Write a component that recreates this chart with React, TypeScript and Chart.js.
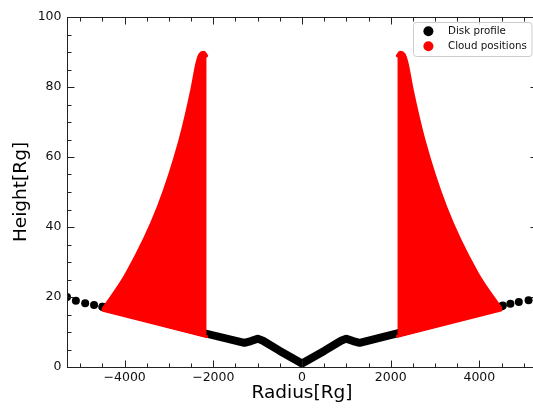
import React, { useEffect, useRef } from 'react';
import { Chart, registerables } from 'chart.js';

Chart.register(...registerables);

// ---- Data ----
const diskOuterX = [-5300, -5100, -4890, -4690, -4500, 4530, 4700, 4890, 5110, 5300];
const diskOuterY = [20.0, 18.9, 18.2, 17.7, 17.2, 17.6, 18.1, 18.6, 19.1, 19.6];

const diskInnerX = [-4500, -3300, -2150, -1300, -1150, -1000, -880, -500, 0, 500, 880, 1000, 1150, 1300, 2150, 3300, 4500];
const diskInnerY = [17.2, 13.3, 9.5, 6.9, 7.4, 8.1, 7.5, 4.6, 1.0, 4.6, 7.5, 8.1, 7.4, 6.9, 9.6, 13.4, 17.3];

const cloudLeftUpperX = [-4487, -3953, -3240, -2751, -2487, -2368, -2300, -2210, -2150];
const cloudLeftUpperY = [16.6, 26.8, 45.8, 64.9, 79.1, 86.9, 89.4, 89.9, 88.9];
const cloudLeftLowerX = [-4487, -2150];
const cloudLeftLowerY = [16.2, 8.7];

const cloudRightUpperX = [2150, 2210, 2300, 2368, 2487, 2751, 3240, 3953, 4487];
const cloudRightUpperY = [88.9, 89.9, 89.4, 86.9, 79.1, 64.9, 45.8, 26.8, 16.8];
const cloudRightLowerX = [2150, 4487];
const cloudRightLowerY = [8.8, 16.3];

const xTicks = [-4000, -2000, 0, 2000, 4000];
const yTicks = [0, 20, 40, 60, 80, 100];
const xMinorStep = 500;
const yMinorStep = 5;

const legendLabels = ['Disk profile', 'Cloud positions'];
const legendColors = ['#000000', '#ff0000'];

const FONT = 'DejaVu Sans';
const RED = '#ff0000';

const pts = (xs: number[], ys: number[]) => xs.map((x, i) => ({ x, y: ys[i] }));
const fmt = (v: number) => (v < 0 ? '\u2212' + Math.abs(v) : String(v));

const framePlugin = {
  id: 'frameAndLegend',
  afterDraw(chart: any) {
    const { ctx, chartArea: a, scales } = chart;
    const xs = scales.x;
    const ys = scales.y;
    const L = Math.round(a.left) + 0.5;
    const R = Math.round(a.right) + 0.5;
    const T = Math.round(a.top) + 0.5;
    const B = Math.round(a.bottom) + 0.5;
    ctx.save();
    ctx.strokeStyle = '#222';
    ctx.lineWidth = 1;
    const seg = (x1: number, y1: number, x2: number, y2: number) => {
      ctx.beginPath();
      ctx.moveTo(x1, y1);
      ctx.lineTo(x2, y2);
      ctx.stroke();
    };
    for (let v = Math.ceil(xs.min / xMinorStep) * xMinorStep; v <= xs.max; v += xMinorStep) {
      const major = xTicks.includes(v);
      const len = major ? 7 : 4;
      const px = Math.round(xs.getPixelForValue(v)) + 0.5;
      seg(px, B, px, B - len);
      seg(px, T, px, T + len);
    }
    for (let v = Math.ceil(ys.min / yMinorStep) * yMinorStep; v <= ys.max; v += yMinorStep) {
      const major = yTicks.includes(v);
      const len = major ? 7 : 4;
      const py = Math.round(ys.getPixelForValue(v)) + 0.5;
      seg(L, py, L + len, py);
      seg(R, py, R - len, py);
    }
    ctx.strokeRect(L, T, R - L, B - T);

    // legend
    const bx = 413.5, by = 22.5, bw = 118.5, bh = 34, r = 3;
    ctx.beginPath();
    ctx.moveTo(bx + r, by);
    ctx.lineTo(bx + bw - r, by);
    ctx.arcTo(bx + bw, by, bx + bw, by + r, r);
    ctx.lineTo(bx + bw, by + bh - r);
    ctx.arcTo(bx + bw, by + bh, bx + bw - r, by + bh, r);
    ctx.lineTo(bx + r, by + bh);
    ctx.arcTo(bx, by + bh, bx, by + bh - r, r);
    ctx.lineTo(bx, by + r);
    ctx.arcTo(bx, by, bx + r, by, r);
    ctx.closePath();
    ctx.fillStyle = 'rgba(255,255,255,0.8)';
    ctx.fill();
    ctx.strokeStyle = '#cccccc';
    ctx.stroke();
    ctx.font = `10.3px "${FONT}"`;
    ctx.textBaseline = 'middle';
    ctx.textAlign = 'left';
    legendLabels.forEach((lab, i) => {
      const cy = 31.2 + i * 15;
      ctx.beginPath();
      ctx.arc(428.4, cy, 5, 0, Math.PI * 2);
      ctx.fillStyle = legendColors[i];
      ctx.fill();
      ctx.fillStyle = '#111';
      ctx.fillText(lab, 448, cy);
    });
    ctx.restore();
  },
};

export default function App() {
  const ref = useRef<HTMLCanvasElement>(null);
  useEffect(() => {
    const canvas = ref.current;
    if (!canvas) return;
    const cloudStyle = {
      type: 'line' as const,
      borderColor: RED,
      backgroundColor: RED,
      borderWidth: 3,
      borderJoinStyle: 'round' as const,
      borderCapStyle: 'round' as const,
      pointRadius: 0,
      order: 0,
    };
    const chart = new Chart(canvas, {
      type: 'line',
      data: {
        datasets: [
          { ...cloudStyle, label: 'Cloud positions', data: pts(cloudLeftUpperX, cloudLeftUpperY), fill: '+1', cubicInterpolationMode: 'monotone' },
          { ...cloudStyle, label: 'cl-low', data: pts(cloudLeftLowerX, cloudLeftLowerY), fill: false, tension: 0 },
          { ...cloudStyle, label: 'cr-up', data: pts(cloudRightUpperX, cloudRightUpperY), fill: '+1', cubicInterpolationMode: 'monotone' },
          { ...cloudStyle, label: 'cr-low', data: pts(cloudRightLowerX, cloudRightLowerY), fill: false, tension: 0 },
          {
            type: 'line',
            label: 'disk-line',
            data: pts(diskInnerX, diskInnerY),
            borderColor: '#000',
            backgroundColor: '#000',
            borderWidth: 8,
            borderJoinStyle: 'round',
            borderCapStyle: 'round',
            pointRadius: 0,
            tension: 0,
            fill: false,
            order: 1,
          },
          {
            type: 'line',
            label: 'Disk profile',
            data: pts(diskOuterX, diskOuterY),
            showLine: false,
            pointRadius: 4,
            pointBorderWidth: 0,
            pointBackgroundColor: '#000',
            borderColor: '#000',
            backgroundColor: '#000',
            fill: false,
            clip: 0,
            order: 1,
          },
        ] as any,
      },
      options: {
        responsive: false,
        animation: false,
        events: [],
        layout: { padding: { left: 0, right: 8, top: 17, bottom: 0 } },
        plugins: { legend: { display: false }, tooltip: { enabled: false } },
        scales: {
          x: {
            type: 'linear',
            min: -5300,
            max: 5300,
            afterBuildTicks: (s: any) => {
              s.ticks = xTicks.map((v) => ({ value: v }));
            },
            afterFit: (s: any) => {
              s.height = 41;
            },
            grid: { display: false, drawTicks: false },
            border: { display: false },
            ticks: {
              padding: 3,
              color: '#111',
              autoSkip: false,
              maxRotation: 0,
              font: { family: FONT, size: 12.5 },
              callback: (v: any) => fmt(Number(v)),
            },
            title: {
              display: true,
              text: 'Radius[Rg]',
              color: '#000',
              font: { family: FONT, size: 18.5 },
              padding: { top: 0, bottom: 4 },
            },
          },
          y: {
            type: 'linear',
            min: 0,
            max: 100,
            afterBuildTicks: (s: any) => {
              s.ticks = yTicks.map((v) => ({ value: v }));
            },
            afterFit: (s: any) => {
              s.width = 67;
            },
            grid: { display: false, drawTicks: false },
            border: { display: false },
            ticks: {
              padding: 5.5,
              color: '#111',
              autoSkip: false,
              font: { family: FONT, size: 12.5 },
              callback: (v: any) => fmt(Number(v)),
            },
            title: {
              display: true,
              text: 'Height[Rg]',
              color: '#000',
              font: { family: FONT, size: 18.5 },
              padding: { top: 10, bottom: 0 },
            },
          },
        },
      } as any,
      plugins: [framePlugin],
    });
    return () => chart.destroy();
  }, []);
  return (
    <div
      style={{
        position: 'fixed',
        left: 0,
        top: 0,
        width: 533,
        height: 408,
        overflow: 'hidden',
        background: '#fff',
      }}
    >
      <canvas ref={ref} width={545} height={408} style={{ display: 'block', width: 545, height: 408 }} />
    </div>
  );
}
